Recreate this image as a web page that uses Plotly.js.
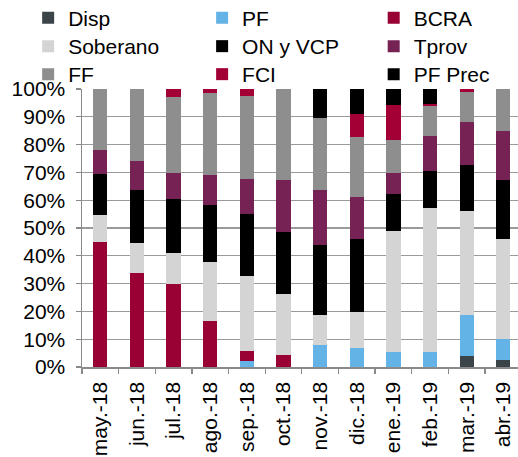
<!DOCTYPE html>
<html>
<head>
<meta charset="utf-8">
<script src="https://cdn.plot.ly/plotly-3.0.1.min.js"></script>
<style>html,body{margin:0;padding:0;background:#fff;}#chart{width:518px;height:457px;}</style>
</head>
<body>
<div id="chart"></div>
<script>
const months = ["may.-18","jun.-18","jul.-18","ago.-18","sep.-18","oct.-18","nov.-18","dic.-18","ene.-19","feb.-19","mar.-19","abr.-19"];

const disp     = [0, 0, 0, 0, 0, 0, 0, 0, 0, 0, 4.0, 2.4];
const pf       = [0, 0, 0, 0, 2.3, 0, 7.8, 6.7, 5.3, 5.3, 14.8, 7.8];
const bcra     = [45.0, 33.8, 29.7, 16.4, 3.3, 4.3, 0, 0, 0, 0, 0, 0];
const soberano = [9.6, 10.8, 11.4, 21.4, 27.1, 22.0, 10.9, 13.2, 43.5, 51.9, 37.3, 35.7];
const onVcp    = [14.7, 18.9, 19.2, 20.6, 22.5, 22.1, 25.1, 26.0, 13.3, 13.2, 16.4, 21.2];
const tprov    = [8.6, 10.7, 9.6, 10.5, 12.5, 19.0, 19.9, 15.1, 7.6, 12.6, 15.6, 17.8];
const ff       = [22.1, 25.8, 27.2, 29.8, 29.9, 32.6, 25.9, 21.9, 11.8, 10.8, 10.9, 15.1];
const fci      = [0, 0, 2.9, 1.3, 2.4, 0, 0, 8.1, 12.9, 0.8, 1.0, 0];
const pfPrec   = [0, 0, 0, 0, 0, 0, 10.4, 9.0, 5.6, 5.4, 0, 0];

const seriesNames = ["Disp","PF","BCRA","Soberano","ON y VCP","Tprov","FF","FCI","PF Prec"];
const seriesVals = [disp, pf, bcra, soberano, onVcp, tprov, ff, fci, pfPrec];
const seriesColors = ["#3b4449","#63b3e6","#990033","#d4d4d4","#000000","#772255","#8e8e8e","#a30036","#000000"];

const FS = 21;
const colX = [-0.1235, 0.2755, 0.669];
const rowY = [1 - 18/457, 1 - 46.5/457, 1 - 74.5/457];

const traces = seriesNames.map((n, i) => ({
  type: "bar",
  name: n,
  x: months,
  y: seriesVals[i],
  width: 0.39,
  legend: i === 0 ? "legend" : "legend" + (i + 1),
  marker: {color: seriesColors[i], line: {width: 0}},
  hoverinfo: "name+y"
}));

function legendAt(xp, yp) {
  return {
    orientation: "v",
    x: xp, xref: "paper", xanchor: "left",
    y: yp, yref: "container", yanchor: "middle",
    traceorder: "normal",
    itemwidth: 30,
    font: {size: FS, color: "#000"},
    bgcolor: "rgba(0,0,0,0)",
    borderwidth: 0
  };
}

const layout = {
  width: 518,
  height: 457,
  barmode: "stack",
  barnorm: "percent",
  paper_bgcolor: "#ffffff",
  plot_bgcolor: "#ffffff",
  margin: {l: 81.7, r: 0, t: 89.3, b: 89.7, pad: 0, autoexpand: false},
  font: {family: "Liberation Sans, Arial, sans-serif", size: FS, color: "#000"},
  showlegend: true,
  xaxis: {
    type: "category",
    range: [-0.5, 11.4],
    tickangle: -90,
    ticks: "outside",
    tickson: "boundaries",
    ticklen: 5,
    tickcolor: "#8a8a8a",
    tickwidth: 1.3,
    ticklabelstandoff: 5,
    showline: true,
    linecolor: "#8a8a8a",
    linewidth: 1.5,
    showgrid: false,
    tickfont: {size: FS, color: "#000"},
    fixedrange: true
  },
  yaxis: {
    range: [0, 100],
    tickvals: [0,10,20,30,40,50,60,70,80,90,100],
    ticktext: ["0%","10%","20%","30%","40%","50%","60%","70%","80%","90%","100%"],
    ticks: "outside",
    ticklen: 5,
    tickcolor: "#8a8a8a",
    tickwidth: 1.3,
    ticklabelstandoff: 6,
    showline: true,
    linecolor: "#8a8a8a",
    linewidth: 1.5,
    showgrid: true,
    gridcolor: "#9a9a9a",
    gridwidth: 1.2,
    zeroline: false,
    tickfont: {size: FS, color: "#000"},
    fixedrange: true
  }
};
for (let i = 0; i < 9; i++) {
  const key = i === 0 ? "legend" : "legend" + (i + 1);
  layout[key] = legendAt(colX[i % 3], rowY[Math.floor(i / 3)]);
}

Plotly.newPlot("chart", traces, layout, {displayModeBar: false, staticPlot: true});
</script>
</body>
</html>
